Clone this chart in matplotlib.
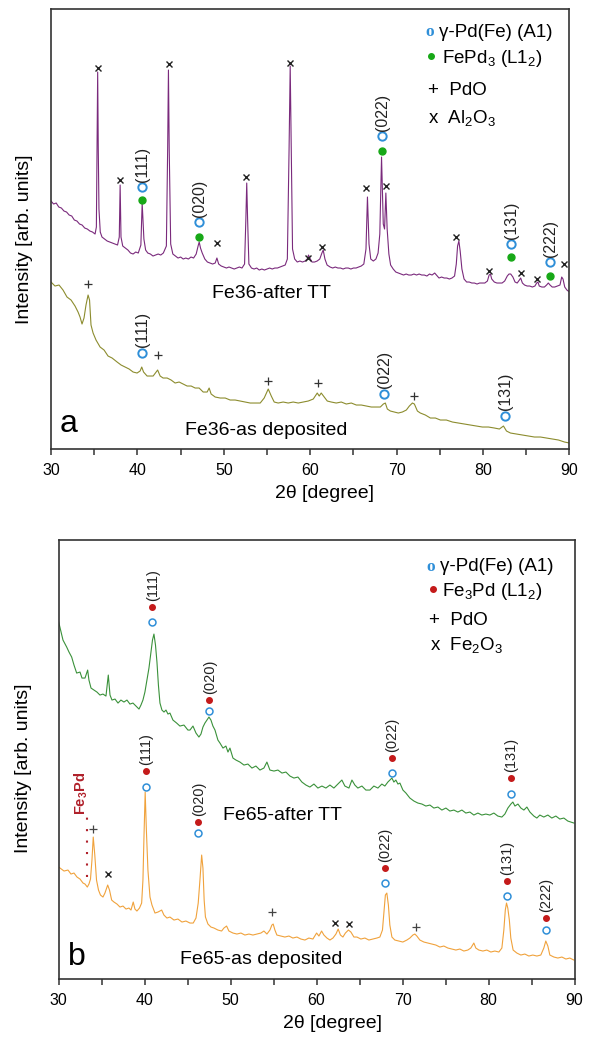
import numpy as np
import matplotlib
matplotlib.use("Agg")
from matplotlib import pyplot

# ---- panel a : Fe36 ----
# (2theta, intensity)
fe36_tt = [
    (30.0, 248), (30.3, 245), (30.6, 246), (30.9, 242), (31.2, 241), (31.5, 238),
    (31.8, 237), (32.1, 234), (32.4, 233), (32.7, 229), (33.0, 228), (33.3, 225),
    (33.6, 224), (33.9, 221), (34.2, 220), (34.5, 218), (34.8, 217), (35.1, 215),
    (35.25, 222), (35.33, 300), (35.4, 377), (35.47, 300), (35.55, 240), (35.7, 217),
    (35.9, 212), (36.2, 210), (36.5, 208), (36.8, 207), (37.1, 206), (37.4, 205),
    (37.7, 204), (37.9, 212), (38.0, 264), (38.1, 212), (38.3, 203), (38.6, 201),
    (38.9, 199), (39.2, 196), (39.5, 195), (39.8, 197), (40.1, 196), (40.4, 204),
    (40.55, 246), (40.75, 210), (40.95, 199), (41.2, 196), (41.5, 195), (41.8, 193),
    (42.1, 194), (42.4, 195), (42.7, 194), (43.0, 196), (43.35, 203), (43.5, 300),
    (43.59, 379), (43.68, 300), (43.85, 205), (44.1, 195), (44.4, 193), (44.7, 191),
    (45.0, 192), (45.3, 190), (45.6, 191), (45.9, 190), (46.2, 192), (46.5, 191),
    (46.8, 195), (47.05, 204), (47.15, 207), (47.3, 201), (47.5, 196), (47.8, 190),
    (48.1, 187), (48.4, 186), (48.7, 185), (49.0, 186), (49.2, 191), (49.4, 185),
    (49.7, 183), (50.0, 182), (50.3, 181), (50.6, 182), (50.9, 181), (51.2, 180),
    (51.5, 181), (51.8, 182), (52.1, 181), (52.4, 185), (52.55, 230), (52.65, 266),
    (52.75, 230), (52.9, 185), (53.2, 181), (53.5, 180), (53.8, 181), (54.1, 179),
    (54.4, 180), (54.7, 179), (55.0, 180), (55.3, 181), (55.6, 180), (55.9, 181),
    (56.2, 181), (56.5, 182), (56.8, 183), (57.1, 184), (57.35, 190), (57.55, 300),
    (57.68, 383), (57.8, 300), (57.95, 200), (58.2, 190), (58.5, 187), (58.8, 188),
    (59.1, 187), (59.4, 188), (59.65, 190), (59.8, 194), (59.95, 191), (60.2, 187),
    (60.5, 187), (60.8, 188), (61.1, 190), (61.35, 196), (61.5, 199), (61.7, 190),
    (61.95, 184), (62.3, 182), (62.6, 181), (62.9, 182), (63.2, 181), (63.5, 181),
    (63.8, 180), (64.1, 181), (64.4, 181), (64.7, 180), (65.0, 181), (65.3, 181),
    (65.6, 182), (65.9, 183), (66.2, 185), (66.45, 200), (66.62, 252), (66.8, 205),
    (67.0, 190), (67.3, 188), (67.6, 190), (67.85, 196), (68.05, 215), (68.25, 292),
    (68.45, 225), (68.6, 220), (68.75, 256), (68.9, 220), (69.1, 195), (69.3, 184),
    (69.6, 180), (69.9, 177), (70.2, 176), (70.5, 175), (70.8, 174), (71.1, 175),
    (71.4, 174), (71.7, 174), (72.0, 175), (72.3, 174), (72.6, 175), (72.9, 174),
    (73.2, 174), (73.5, 173), (73.8, 175), (74.1, 174), (74.4, 176), (74.6, 174),
    (74.9, 171), (75.2, 172), (75.5, 171), (75.8, 171), (76.1, 170), (76.4, 171),
    (76.7, 173), (76.9, 185), (77.05, 203), (77.2, 208), (77.35, 198), (77.55, 180),
    (77.8, 170), (78.1, 167), (78.4, 167), (78.7, 166), (79.0, 166), (79.3, 165),
    (79.6, 166), (79.9, 166), (80.2, 166), (80.5, 168), (80.7, 174), (80.85, 175),
    (81.0, 170), (81.3, 167), (81.6, 166), (81.9, 166), (82.2, 166), (82.5, 168),
    (82.8, 173), (83.0, 175), (83.2, 175), (83.45, 172), (83.7, 167), (83.95, 166),
    (84.2, 169), (84.35, 171), (84.55, 166), (84.8, 164), (85.1, 163), (85.4, 163),
    (85.7, 162), (86.0, 163), (86.2, 166), (86.35, 167), (86.5, 163), (86.8, 162),
    (87.1, 162), (87.35, 164), (87.55, 166), (87.75, 164), (88.0, 162), (88.3, 162),
    (88.6, 163), (88.9, 164), (89.1, 172), (89.25, 170), (89.45, 162), (89.7, 159),
    (90.0, 157),
]

fe36_dep = [
    (30.0, 167), (30.46, 163), (30.93, 164), (31.39, 159), (31.85, 152), (32.32, 149),
    (32.78, 143), (33.13, 137), (33.36, 132), (33.59, 125), (33.82, 131), (34.05, 144),
    (34.29, 154), (34.46, 149), (34.63, 124), (34.87, 116), (35.21, 109), (35.68, 102),
    (36.14, 99), (36.6, 93), (37.07, 91), (37.65, 87), (38.11, 84), (38.57, 82),
    (39.04, 80), (39.5, 77), (39.96, 76), (40.31, 78), (40.5, 82), (40.71, 77),
    (41.12, 73), (41.47, 73), (41.82, 73), (42.17, 77), (42.34, 79), (42.63, 73),
    (42.97, 71), (43.44, 71), (43.9, 69), (44.36, 66), (44.83, 67), (45.29, 65),
    (45.75, 63), (46.22, 63), (46.68, 61), (47.14, 61), (47.61, 57), (48.07, 57),
    (48.3, 61), (48.53, 55), (49.0, 52), (49.58, 51), (50.16, 51), (50.73, 49),
    (51.31, 49), (51.89, 48), (52.47, 47), (53.05, 46), (53.63, 46), (54.21, 46),
    (54.67, 51), (55.14, 60), (55.49, 53), (55.83, 47), (56.29, 46), (56.87, 47),
    (57.45, 46), (58.03, 47), (58.61, 46), (59.19, 47), (59.77, 48), (60.35, 50),
    (60.81, 56), (61.04, 53), (61.27, 56), (61.62, 52), (61.97, 48), (62.43, 47),
    (63.01, 46), (63.59, 47), (64.17, 45), (64.75, 46), (65.33, 44), (65.91, 44),
    (66.49, 43), (67.07, 42), (67.65, 42), (68.11, 42), (68.46, 45), (68.69, 46),
    (68.92, 40), (69.27, 38), (69.73, 37), (70.19, 36), (70.66, 37), (71.12, 39),
    (71.47, 43), (71.82, 46), (72.05, 45), (72.4, 38), (72.74, 36), (73.32, 34),
    (73.9, 31), (74.48, 31), (75.06, 29), (75.75, 29), (76.45, 27), (77.14, 26),
    (77.84, 25), (78.53, 24), (79.23, 23), (79.92, 22), (80.62, 22), (81.31, 21),
    (81.89, 20), (82.36, 23), (82.71, 18), (83.17, 16), (83.86, 15), (84.56, 14),
    (85.25, 13), (85.95, 12), (86.64, 12), (87.34, 11), (88.03, 10), (88.73, 9),
    (89.42, 7), (90.0, 6),
]

fe36_tt_al2o3 = [
    (35.39, 381), (37.99, 269), (43.61, 385), (49.17, 206), (52.59, 272),
    (57.68, 386), (59.77, 191), (61.39, 202), (66.49, 261), (68.8, 263),
    (76.91, 212), (80.73, 178), (84.44, 176), (86.29, 170), (89.31, 185),
]
fe36_tt_hkl = ["(111)", "(020)", "(022)", "(131)", "(222)"]
fe36_tt_hkl_pos = [40.5, 47.14, 68.31, 83.25, 87.72]
fe36_tt_gamma = [262, 227, 313, 205, 187]
fe36_tt_fepd3 = [249, 212, 298, 192, 173]

fe36_dep_pdo = [(34.29, 165), (42.39, 94), (55.14, 68), (60.89, 66), (71.97, 53)]
fe36_dep_hkl = ["(111)", "(022)", "(131)"]
fe36_dep_hkl_pos = [40.5, 68.49, 82.51]
fe36_dep_gamma = [96, 55, 33]

# ---- panel b : Fe65 ----
fe65_tt = [
    (30.0, 357), (30.5, 339), (30.93, 332), (31.2, 327), (31.51, 322), (31.78, 314),
    (32.09, 306), (32.48, 307), (32.71, 301), (33.06, 301), (33.37, 309), (33.52, 299),
    (33.76, 291), (34.1, 289), (34.45, 287), (34.8, 284), (35.15, 285), (35.5, 283),
    (35.77, 304), (35.97, 284), (36.2, 279), (36.55, 280), (36.9, 276), (37.24, 279),
    (37.59, 277), (37.94, 279), (38.29, 275), (38.64, 276), (38.99, 273), (39.34, 270),
    (39.57, 274), (39.8, 279), (40.03, 287), (40.27, 299), (40.5, 311), (40.73, 327),
    (40.91, 339), (41.08, 345), (41.26, 334), (41.43, 317), (41.6, 294), (41.78, 276),
    (42.01, 269), (42.25, 267), (42.48, 269), (42.71, 265), (42.94, 266), (43.29, 259),
    (43.72, 256), (44.1, 253), (44.57, 254), (45.03, 249), (45.27, 249), (45.62, 253),
    (45.97, 246), (46.31, 242), (46.55, 245), (46.78, 252), (47.01, 256), (47.25, 259),
    (47.48, 262), (47.71, 259), (47.94, 253), (48.18, 249), (48.52, 239), (48.76, 236),
    (49.11, 231), (49.45, 233), (49.69, 227), (49.92, 231), (50.27, 221), (50.62, 219),
    (51.08, 217), (51.55, 214), (52.01, 215), (52.48, 211), (52.94, 213), (53.41, 209),
    (53.87, 211), (54.22, 217), (54.57, 209), (55.04, 208), (55.5, 209), (55.97, 206),
    (56.43, 207), (56.9, 203), (57.36, 201), (57.83, 202), (58.29, 197), (58.76, 194),
    (59.22, 192), (59.69, 195), (60.15, 191), (60.62, 193), (61.08, 191), (61.55, 194),
    (62.01, 191), (62.48, 195), (62.94, 199), (63.29, 193), (63.76, 191), (64.11, 199),
    (64.45, 194), (64.8, 191), (65.27, 193), (65.73, 189), (66.2, 189), (66.66, 193),
    (67.13, 191), (67.59, 195), (67.94, 193), (68.29, 197), (68.52, 199), (68.76, 201),
    (68.99, 197), (69.22, 199), (69.46, 195), (69.69, 196), (70.04, 189), (70.39, 186),
    (70.85, 181), (71.32, 178), (71.78, 176), (72.25, 175), (72.71, 173), (73.18, 174),
    (73.64, 171), (74.11, 172), (74.57, 169), (75.04, 171), (75.5, 168), (75.97, 169),
    (76.43, 167), (76.9, 169), (77.36, 166), (77.83, 167), (78.29, 164), (78.76, 166),
    (79.22, 164), (79.69, 165), (80.15, 164), (80.62, 166), (81.08, 163), (81.55, 162),
    (81.9, 165), (82.25, 171), (82.6, 175), (82.83, 177), (83.07, 173), (83.42, 175),
    (83.76, 171), (84.11, 169), (84.46, 172), (84.81, 167), (85.27, 163), (85.62, 161),
    (85.97, 164), (86.43, 162), (86.9, 164), (87.36, 161), (87.83, 163), (88.29, 160),
    (88.76, 161), (89.22, 158), (89.93, 156),
]

fe65_dep = [
    (30.0, 112), (30.62, 108), (31.08, 109), (31.43, 105), (31.78, 106), (32.13, 102),
    (32.48, 100), (32.83, 96), (33.06, 95), (33.33, 92), (33.52, 95), (33.7, 100),
    (33.87, 119), (34.02, 142), (34.2, 124), (34.4, 99), (34.63, 89), (34.86, 84),
    (35.15, 82), (35.38, 86), (35.7, 94), (35.91, 89), (36.16, 79), (36.43, 77),
    (36.78, 75), (37.13, 72), (37.48, 73), (37.83, 70), (38.17, 71), (38.41, 69),
    (38.67, 77), (38.87, 70), (39.1, 68), (39.4, 71), (39.65, 76), (39.8, 99),
    (39.92, 142), (40.06, 187), (40.2, 149), (40.38, 109), (40.62, 82), (40.85, 74),
    (41.2, 66), (41.55, 67), (41.98, 69), (42.24, 64), (42.59, 61), (42.94, 62),
    (43.41, 59), (43.87, 60), (44.34, 57), (44.8, 58), (45.27, 56), (45.65, 56),
    (45.97, 61), (46.23, 76), (46.43, 99), (46.63, 124), (46.78, 111), (46.92, 79),
    (47.07, 62), (47.36, 55), (47.71, 52), (48.06, 51), (48.52, 49), (48.95, 48),
    (49.22, 51), (49.53, 53), (49.8, 48), (50.27, 46), (50.73, 45), (51.2, 46),
    (51.66, 44), (52.13, 45), (52.59, 44), (53.06, 45), (53.52, 46), (53.87, 48),
    (54.22, 45), (54.57, 49), (54.8, 54), (54.95, 55), (55.15, 49), (55.38, 44),
    (55.85, 43), (56.31, 42), (56.78, 43), (57.24, 41), (57.71, 42), (58.17, 40),
    (58.64, 39), (59.1, 41), (59.57, 40), (60.0, 46), (60.27, 43), (60.58, 48),
    (60.85, 44), (61.2, 41), (61.55, 39), (61.9, 41), (62.25, 45), (62.51, 50),
    (62.77, 44), (63.06, 42), (63.35, 46), (63.7, 49), (63.99, 47), (64.34, 42),
    (64.69, 42), (65.15, 40), (65.62, 41), (66.08, 39), (66.55, 40), (67.01, 41),
    (67.36, 42), (67.66, 49), (67.83, 67), (68.0, 84), (68.17, 86), (68.35, 74),
    (68.52, 54), (68.76, 42), (69.1, 39), (69.57, 38), (70.03, 37), (70.5, 39),
    (70.85, 41), (71.2, 44), (71.43, 45), (71.66, 43), (72.01, 39), (72.48, 37),
    (72.94, 36), (73.41, 35), (73.87, 34), (74.34, 32), (74.8, 33), (75.27, 31),
    (75.73, 30), (76.2, 29), (76.66, 30), (77.13, 28), (77.59, 29), (77.94, 31),
    (78.29, 36), (78.52, 31), (78.87, 29), (79.34, 28), (79.8, 29), (80.27, 27),
    (80.73, 28), (81.2, 27), (81.55, 31), (81.78, 49), (81.95, 69), (82.09, 76),
    (82.24, 71), (82.42, 59), (82.59, 41), (82.86, 29), (83.29, 26), (83.76, 24),
    (84.22, 25), (84.69, 23), (85.15, 24), (85.62, 23), (86.08, 24), (86.43, 31),
    (86.66, 38), (86.9, 33), (87.13, 24), (87.6, 22), (88.06, 21), (88.53, 22),
    (89.0, 20), (89.45, 21), (89.92, 19),
]

fe65_tt_hkl = ["(111)", "(020)", "(022)", "(131)"]
fe65_tt_hkl_pos = [40.88, 47.48, 68.72, 82.59]
fe65_tt_fe3pd = [372, 279, 221, 201]
fe65_tt_gamma = [357, 268, 206, 185]

fe65_dep_hkl = ["(111)", "(020)", "(022)", "(131)", "(222)"]
fe65_dep_hkl_pos = [40.12, 46.23, 67.94, 82.09, 86.63]
fe65_dep_fe3pd = [208, 157, 111, 98, 61]
fe65_dep_gamma = [192, 146, 96, 83, 49]
fe65_dep_pdo = [(33.95, 150), (54.77, 67), (71.51, 52)]
fe65_dep_fe2o3 = [(35.7, 105), (62.13, 56), (63.79, 55)]
fe65_dep_fe3pd_line = (33.33, 102, 168)

BLUE = "#2f8fd8"
GREEN_DOT = "#17a817"
RED_DOT = "#c41a1a"

pyplot.rcParams["font.family"] = ["Liberation Sans", "DejaVu Sans"]
pyplot.rcParams["mathtext.fontset"] = "custom"
pyplot.rcParams["mathtext.rm"] = "Liberation Sans"


def style_axes(ax, ymax, xlab_x, ylab_x, ylab_y):
    ax.set_xlim(30, 90)
    ax.set_ylim(0, ymax)
    ax.set_yticks([])
    ax.set_xticks(range(30, 91, 10))
    ax.set_xticks(range(35, 90, 10), minor=True)
    ax.tick_params(axis="x", which="both", direction="out", length=4,
                   width=1.1, pad=6, labelsize=11.5, color="#333")
    for spine in ax.spines.values():
        spine.set_linewidth(1.2)
        spine.set_color("#333")
    ax.set_xlabel("2θ [degree]", fontsize=14)
    ax.xaxis.set_label_coords(xlab_x, -0.081)
    ax.set_ylabel("Intensity [arb. units]", fontsize=14)
    ax.yaxis.set_label_coords(ylab_x, ylab_y)


def plot_curve(ax, pattern, color):
    x, y = np.array(pattern).T
    ax.plot(x, y, color=color, lw=0.8)


def hkl_labels(ax, pos, tops, labels, offset, size):
    for t, y, lab in zip(pos, tops, labels):
        ax.annotate(lab, (t, y), xytext=(0.5, offset), textcoords="offset points",
                    rotation=90, ha="center", va="bottom", fontsize=size, color="#222")


def cross_marks(ax, points, marker, color, ms, mew):
    x, y = np.array(points).T
    ax.plot(x, y, linestyle="none", marker=marker, color=color, ms=ms, mew=mew)


def legend_block(ax, rows):
    for kind, x, y, text, kw in rows:
        if kind == "dot":
            ax.plot([x], [y], marker="o", ms=4, color=kw, transform=ax.transAxes,
                    clip_on=False)
        else:
            ax.text(x, y, text, transform=ax.transAxes, va="baseline", ha="left", **kw)


fig = pyplot.figure(figsize=(5.91, 10.37), dpi=100)

# ---------------- panel a ----------------
ax = fig.add_axes([0.0863, 0.5670, 0.8773, 0.4243])
style_axes(ax, 440, 0.527, -0.035, 0.477)
plot_curve(ax, fe36_tt, "#7a2a7c")
plot_curve(ax, fe36_dep, "#8c8c2e")

cross_marks(ax, fe36_tt_al2o3, "x", "#222", 4, 1.0)
ax.plot(fe36_tt_hkl_pos, fe36_tt_fepd3, linestyle="none", marker="o", ms=5,
        color=GREEN_DOT)
ax.plot(fe36_tt_hkl_pos, fe36_tt_gamma, linestyle="none", marker="o", ms=6,
        mfc="none", mec=BLUE, mew=1.4)
hkl_labels(ax, fe36_tt_hkl_pos, fe36_tt_gamma, fe36_tt_hkl, 3.5, 11.5)

cross_marks(ax, fe36_dep_pdo, "+", "#333", 6, 0.9)
ax.plot(fe36_dep_hkl_pos, fe36_dep_gamma, linestyle="none", marker="o", ms=6,
        mfc="none", mec=BLUE, mew=1.4)
hkl_labels(ax, fe36_dep_hkl_pos, fe36_dep_gamma, fe36_dep_hkl, 4.0, 11.5)

ax.text(48.65, 156, "Fe36-after TT", fontsize=14, va="center", ha="left")
ax.text(45.52, 19, "Fe36-as deposited", fontsize=14, va="center", ha="left")
ax.text(0.017, 0.039, "a", transform=ax.transAxes, fontsize=23, va="baseline")

legend_block(ax, [
    ("text", 0.7220, 0.9386, "o", dict(color=BLUE, fontsize=12.5, fontweight="bold",
                                       family=["Liberation Serif"])),
    ("text", 0.7475, 0.9375, "γ-Pd(Fe) (A1)", dict(fontsize=13.5)),
    ("dot", 0.7336, 0.893, None, GREEN_DOT),
    ("text", 0.7542, 0.8780, r"FePd$_\mathregular{3}$ (L1$_\mathregular{2}$)",
     dict(fontsize=13.5)),
    ("text", 0.7278, 0.8045, "+  PdO", dict(fontsize=13.5)),
    ("text", 0.7278, 0.7402, r"x  Al$_\mathregular{2}$O$_\mathregular{3}$",
     dict(fontsize=13.5)),
])

# ---------------- panel b ----------------
ax = fig.add_axes([0.0993, 0.0559, 0.8728, 0.4233])
style_axes(ax, 439, 0.531, -0.052, 0.481)
plot_curve(ax, fe65_tt, "#3a913a")
plot_curve(ax, fe65_dep, "#f0a23c")

ax.plot(fe65_tt_hkl_pos, fe65_tt_fe3pd, linestyle="none", marker="o", ms=4,
        color=RED_DOT)
ax.plot(fe65_tt_hkl_pos, fe65_tt_gamma, linestyle="none", marker="o", ms=5,
        mfc="none", mec=BLUE, mew=1.1)
hkl_labels(ax, fe65_tt_hkl_pos, fe65_tt_fe3pd, fe65_tt_hkl, 4.5, 10.5)

ax.plot(fe65_dep_hkl_pos, fe65_dep_fe3pd, linestyle="none", marker="o", ms=4,
        color=RED_DOT)
ax.plot(fe65_dep_hkl_pos, fe65_dep_gamma, linestyle="none", marker="o", ms=5,
        mfc="none", mec=BLUE, mew=1.1)
hkl_labels(ax, fe65_dep_hkl_pos, fe65_dep_fe3pd, fe65_dep_hkl, 4.5, 10.5)

cross_marks(ax, fe65_dep_pdo, "+", "#444", 6, 0.9)
cross_marks(ax, fe65_dep_fe2o3, "x", "#222", 4, 1.0)

t, lo, hi = fe65_dep_fe3pd_line
ax.plot([t, t], [lo, hi], color="#b0202a", lw=1.5, linestyle=(0, (1, 4.5)))
ax.text(t - 0.66, hi - 4, r"Fe$_\mathregular{3}$Pd", rotation=90, ha="center",
        va="bottom", fontsize=10.5, fontweight="bold", color="#b0202a")

ax.text(49.12, 164, "Fe65-after TT", fontsize=14, va="center", ha="left")
ax.text(44.13, 20, "Fe65-as deposited", fontsize=14, va="center", ha="left")
ax.text(0.018, 0.032, "b", transform=ax.transAxes, fontsize=23, va="baseline")

legend_block(ax, [
    ("text", 0.7120, 0.9294, "o", dict(color=BLUE, fontsize=12.5, fontweight="bold",
                                       family=["Liberation Serif"])),
    ("text", 0.7383, 0.9294, "γ-Pd(Fe) (A1)", dict(fontsize=13.5)),
    ("dot", 0.725, 0.888, None, RED_DOT),
    ("text", 0.744, 0.8724, r"Fe$_\mathregular{3}$Pd (L1$_\mathregular{2}$)",
     dict(fontsize=13.5)),
    ("text", 0.7185, 0.8064, "+  PdO", dict(fontsize=13.5)),
    ("text", 0.7198, 0.7472, r"x  Fe$_\mathregular{2}$O$_\mathregular{3}$",
     dict(fontsize=13.5)),
])

fig.savefig("out.png", dpi=100)
